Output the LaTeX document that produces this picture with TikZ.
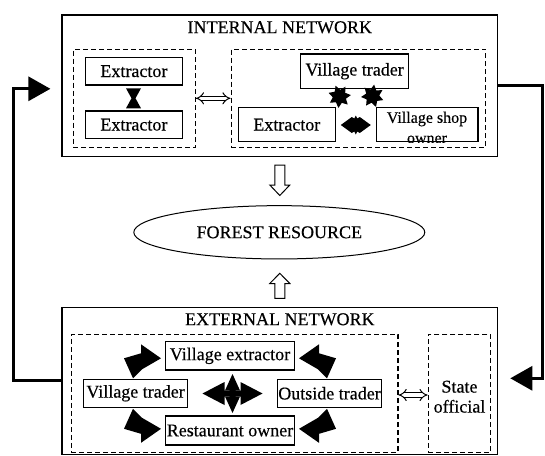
\documentclass[tikz,border=0pt]{standalone}
\usepackage{fontspec}
\setmainfont[FakeBold=0.35]{Liberation Serif}
\usetikzlibrary{arrows.meta,shapes.geometric,calc}
\begin{document}
\begin{tikzpicture}[x=1pt,y=-1pt,
  solidbox/.style={draw,line width=1.2pt,inner sep=0pt},
  dbox/.style={draw,dash pattern=on 5pt off 3pt,line width=1.1pt,inner sep=0pt},
  lbl/.style={font=\fontsize{18}{20}\selectfont,inner sep=0pt},
  conn/.style={line width=3pt,-{Triangle[length=22pt,width=24pt]}},
  darr/.style={double,double distance=3.2pt,line width=1pt,{Implies[length=5pt]}-{Implies[length=5pt]}},
  hollow/.style={draw,line width=1pt,fill=white},
  starblob/.style={star,star points=7,star point ratio=1.7,fill=black,minimum size=23pt,inner sep=0pt}
]
\useasboundingbox (0,0) rectangle (545,455);
\clip (0,0) rectangle (545,455);

% ---------- internal network ----------
\node[solidbox,minimum width=435.8pt,minimum height=141.7pt] (intbox) at (279.8,85.85) {};
\node[lbl] (intt) at (279.8,27.3) {INTERNAL NETWORK};
\node[dbox,minimum width=122.3pt,minimum height=98pt] (dl) at (134.2,98.3) {};
\node[dbox,minimum width=254.8pt,minimum height=98pt] (dr) at (358.5,98.3) {};

\node[solidbox,lbl,minimum width=97.3pt,minimum height=27.7pt] (ext1) at (133.9,71.2) {Extractor};
\node[solidbox,lbl,minimum width=97.3pt,minimum height=27.3pt] (ext2) at (133.9,124.7) {Extractor};
\node[solidbox,lbl,minimum width=107.7pt,minimum height=34.3pt] (vtrader) at (354.6,71.2) {Village trader};
\node[solidbox,lbl,minimum width=97.3pt,minimum height=34pt] (extR) at (286.8,124.7) {Extractor};
\node[solidbox,minimum width=101.8pt,minimum height=34pt] (shop) at (427,124.7) {};
\begin{scope}
  \clip (shop.south west) rectangle (shop.north east);
  \node[font=\fontsize{16}{17}\selectfont,inner sep=0pt] (shopt1) at (427,119) {Village shop};
  \node[font=\fontsize{16}{17}\selectfont,inner sep=0pt] (shopt2) at (427,139.5) {owner};
\end{scope}

% hourglass between the two extractors
\fill (126,88.3) -- (141,88.3) -- (135.5,98.3) -- (141,108.3) -- (126,108.3) -- (131.5,98.3) -- cycle;
% open double arrow between dashed groups
\draw[darr] (dl.east) -- (dr.west);
% star blobs
\node[starblob,rotate=20] (s1) at (339.5,96.5) {};
\node[starblob,rotate=-8] (s2) at (372.5,96) {};
% double head between extractor and shop owner
\fill[shift={(355.8,125)}] (-15,0) -- (-4,-8) -- (-1.5,-6.5) -- (0,-9.5) -- (1.5,-6.5) -- (4,-8) -- (15,0)
   -- (4,8) -- (1.5,6.5) -- (0,9.5) -- (-1.5,6.5) -- (-4,8) -- cycle;

% ---------- forest resource ----------
\node[ellipse,draw,line width=1pt,minimum width=291pt,minimum height=53.3pt,inner sep=0pt,
      font=\fontsize{18}{20}\selectfont] (forest) at (279.3,232.3) {FOREST RESOURCE};
% hollow arrows
\draw[hollow] (274.8,165) -- (284.8,165) -- (284.8,185) -- (289.8,185) -- (279.8,195.5)
   -- (269.8,185) -- (274.8,185) -- cycle;
\draw[hollow] (274.8,298.3) -- (284.8,298.3) -- (284.8,283.5) -- (289.8,283.5) -- (279.8,273.3)
   -- (269.8,283.5) -- (274.8,283.5) -- cycle;

% ---------- external network ----------
\node[solidbox,minimum width=435.8pt,minimum height=146.8pt] (extbox) at (279.8,380.7) {};
\node[lbl] (extt) at (279.8,319.3) {EXTERNAL NETWORK};
\node[dbox,minimum width=326.7pt,minimum height=118pt] (dashE) at (234.65,393.3) {};
\node[dbox,minimum width=62.6pt,minimum height=118pt] (state) at (459.5,393.3) {};
\node[font=\fontsize{18}{20}\selectfont,inner sep=0pt,align=center] (statet) at (459.5,396.7) {State\\official};

\node[solidbox,lbl,minimum width=129.7pt,minimum height=28.3pt] (vext) at (230,355.85) {Village extractor};
\node[solidbox,lbl,minimum width=104.3pt,minimum height=28pt] (vtr) at (135.55,393.3) {Village trader};
\node[solidbox,lbl,minimum width=104.2pt,minimum height=28pt] (otr) at (329.5,393.3) {Outside trader};
\node[solidbox,lbl,minimum width=129.7pt,minimum height=29pt] (rest) at (230,430.5) {Restaurant owner};

\draw[darr] ($(dashE.east)+(0,1.7)$) -- ($(state.west)+(0,1.7)$);

% corner bent arrows
\fill[shift={(161,358.3)}] (0,0) -- (-20,-14) -- (-20,-5) -- (-37,0) -- (-28,20) -- (-19,11) -- cycle;
\fill[shift={(299,358.3)},xscale=-1] (0,0) -- (-20,-14) -- (-20,-5) -- (-37,0) -- (-28,20) -- (-19,11) -- cycle;
\fill[shift={(161,428.8)},yscale=-1] (0,0) -- (-20,-14) -- (-20,-5) -- (-37,0) -- (-28,20) -- (-19,11) -- cycle;
\fill[shift={(299,428.8)},xscale=-1,yscale=-1] (0,0) -- (-20,-14) -- (-20,-5) -- (-37,0) -- (-28,20) -- (-19,11) -- cycle;

% centre cross
\fill[shift={(232.5,393.5)}] (-30,0) -- (-8,-11.5) -- (-8,-3) -- (8,-3) -- (8,-11.5) -- (30,0)
   -- (8,11.5) -- (8,3) -- (-8,3) -- (-8,11.5) -- cycle;
\fill[shift={(232.5,393.5)}] (0,-19.5) -- (7.5,-3) -- (3,-3) -- (3,3) -- (7.5,3) -- (0,19.5)
   -- (-7.5,3) -- (-3,3) -- (-3,-3) -- (-7.5,-3) -- cycle;

% ---------- feedback connectors ----------
\coordinate (ltip) at (50.4,88.8);
\coordinate (rtip) at (510.3,378.3);
\draw[conn] (extbox.west) -| (13.3,88.8) -- (ltip);
\draw[conn] (intbox.east) -| (542,378.3) -- (rtip);
\end{tikzpicture}
\end{document}
